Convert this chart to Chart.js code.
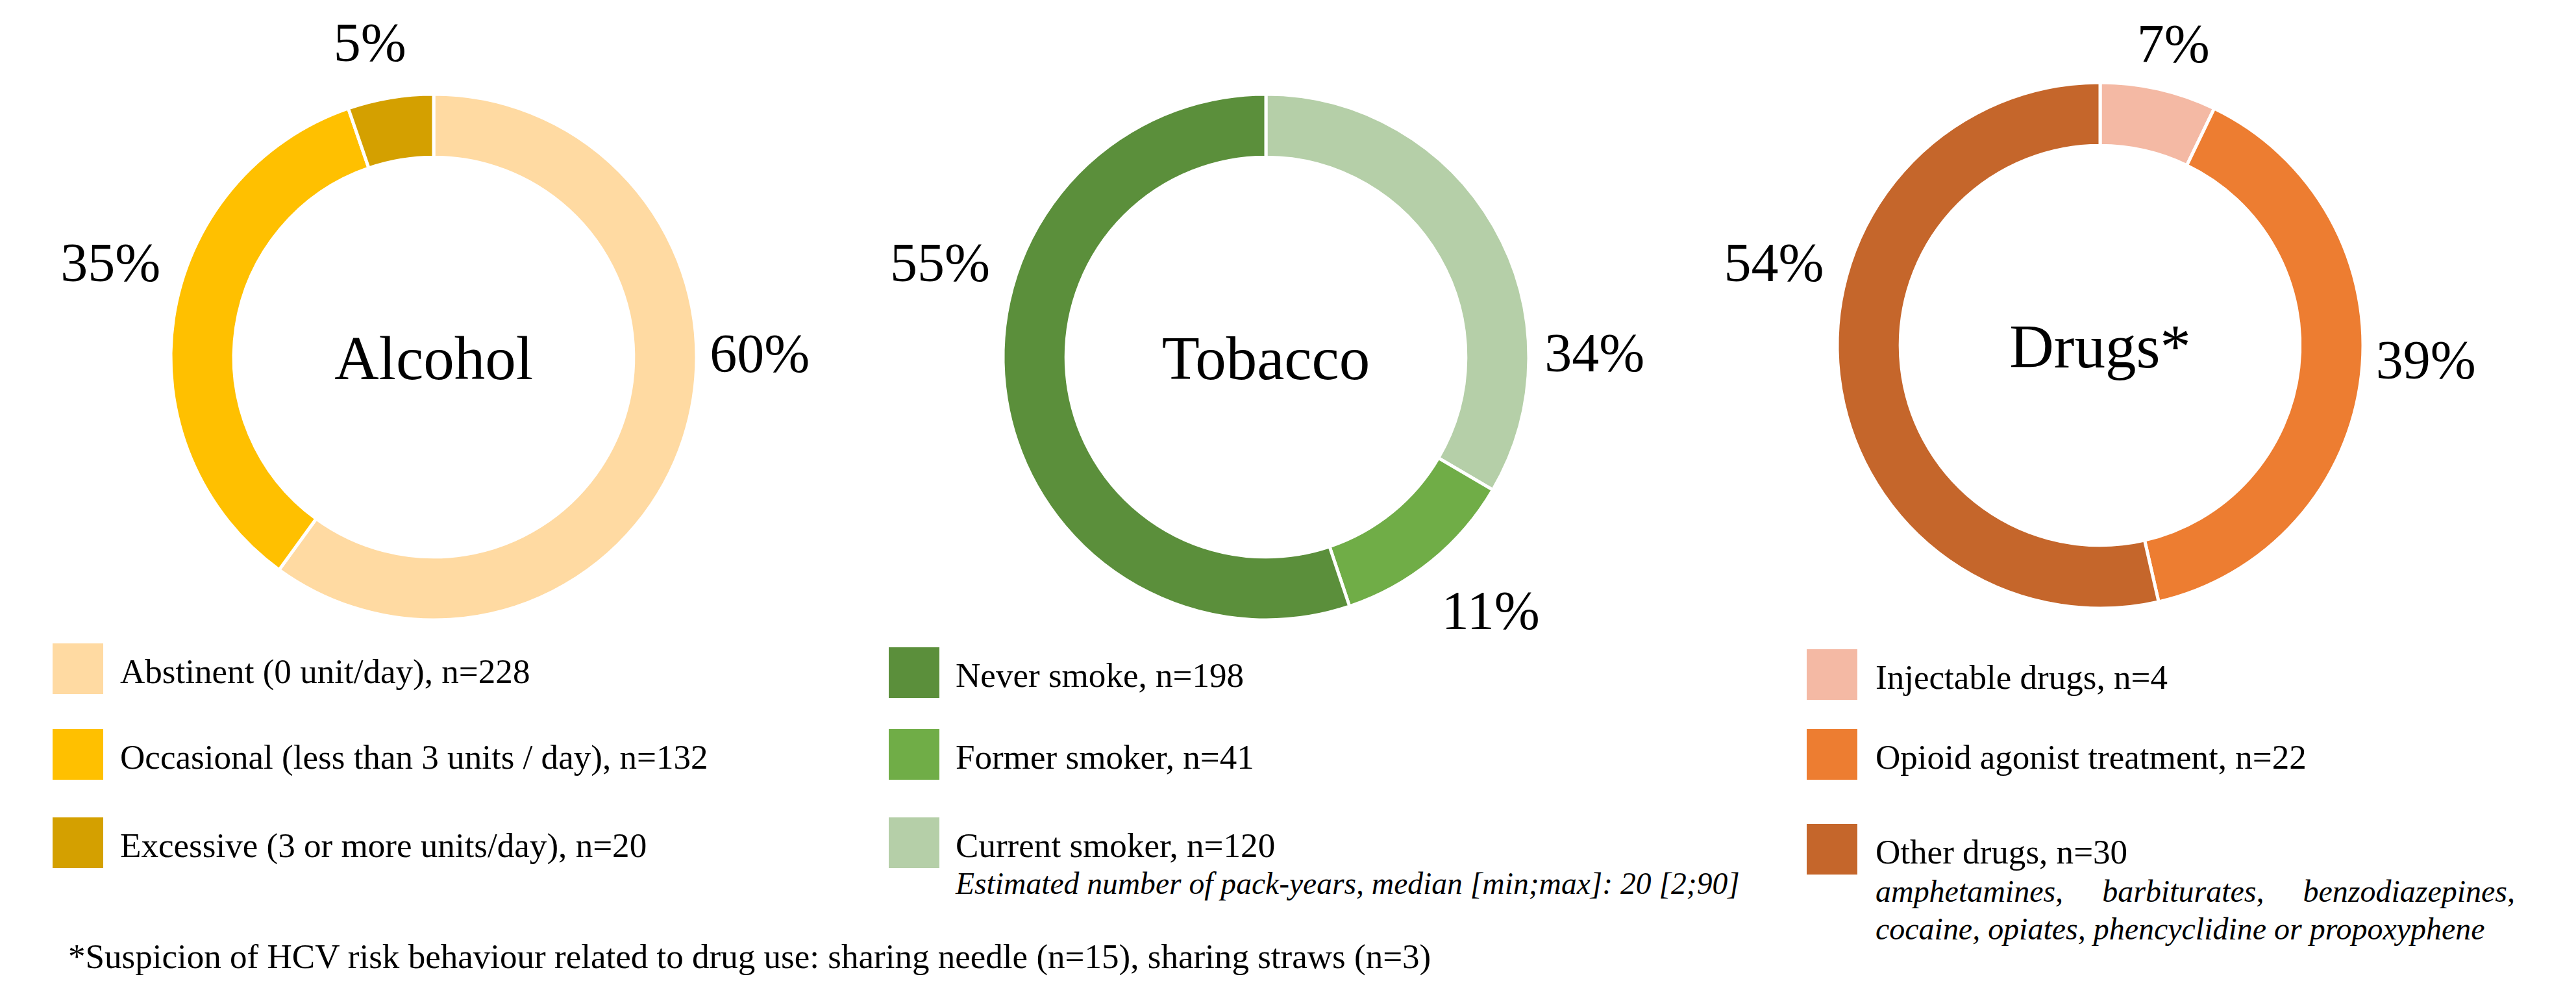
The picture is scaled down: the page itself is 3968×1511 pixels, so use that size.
<!DOCTYPE html>
<html>
<head>
<meta charset="utf-8">
<script src="https://cdn.jsdelivr.net/npm/chart.js@4.4.0/dist/chart.umd.min.js"></script>
<style>
    body { margin: 0; background: #fff; width: 3968px; height: 1511px; position: relative; overflow: hidden;
           font-family: "Liberation Serif", "Times New Roman", serif; color: #000; }
    canvas { position: absolute; }
    .sq { position: absolute; width: 78px; height: 78px; }
    .lt { position: absolute; font-size: 54px; line-height: 54px; white-space: nowrap; }
    .note { position: absolute; font-style: italic; font-size: 48px; line-height: 58px; }
    .foot { position: absolute; font-size: 55px; line-height: 55px; white-space: nowrap; }
</style>
</head>
<body>
<canvas id="alcohol" width="1260" height="1100"></canvas>
<canvas id="tobacco" width="1260" height="1100"></canvas>
<canvas id="drugs" width="1260" height="1100"></canvas>

<script>
// Alcohol
const alcoholLabels = ['Abstinent (0 unit/day)', 'Occasional (less than 3 units / day)', 'Excessive (3 or more units/day)'];
const alcoholN = [228, 132, 20];
const alcoholPct = [60, 35, 5];
const alcoholColors = ['#FFDAA2', '#FFC000', '#D4A000'];

// Tobacco
const tobaccoLabels = ['Never smoke', 'Former smoker', 'Current smoker'];
const tobaccoN = [198, 41, 120];
const tobaccoPct = [55, 11, 34];
const tobaccoColors = ['#5B8F3B', '#70AD47', '#B5CFA8'];

// Drugs
const drugsLabels = ['Injectable drugs', 'Opioid agonist treatment', 'Other drugs'];
const drugsN = [4, 22, 30];
const drugsPct = [7, 39, 54];
const drugsColors = ['#F4B9A4', '#ED7D31', '#C5662B'];

const tobaccoNote = 'Estimated number of pack-years, median [min;max]: 20 [2;90]';
const drugsNote = 'amphetamines, barbiturates, benzodiazepines, cocaine, opiates, phencyclidine or propoxyphene';
const drugsNoteLine2 = 'cocaine, opiates, phencyclidine or propoxyphene';
const footnote = '*Suspicion of HCV risk behaviour related to drug use: sharing needle (n=15), sharing straws (n=3)';

// layout of each panel (ring order = order of slices clockwise from 12 o'clock)
const panels = [
    { id: 'alcohol', title: 'Alcohol', labels: alcoholLabels, n: alcoholN, pct: alcoholPct, colors: alcoholColors,
      ring: [0, 1, 2], cx: 668, cy: 550, nudge: [-18.6, 7.7, -2], dist: [1.24, 1.28, 1.22],
      sqX: 81, txtX: 185, rows: [991, 1123, 1259], txtW: [631, 907, 813] },
    { id: 'tobacco', title: 'Tobacco', labels: tobaccoLabels, n: tobaccoN, pct: tobaccoPct, colors: tobaccoColors,
      ring: [2, 1, 0], cx: 1950, cy: 550, nudge: [25.4, -2.4, 29.2], dist: [1.29, 1.29, 1.25],
      sqX: 1369, txtX: 1472, rows: [997, 1123, 1259], txtW: [443, 458, 494] },
    { id: 'drugs', title: 'Drugs*', labels: drugsLabels, n: drugsN, pct: drugsPct, colors: drugsColors,
      ring: [0, 1, 2], cx: 3235, cy: 532, nudge: [0.8, -3.8, 20.6], dist: [1.18, 1.24, 1.28],
      sqX: 2783, txtX: 2889, rows: [1000, 1123, 1269], txtW: [448, 665, 390] }
];

// draws title in the hole and the % labels outside the ring
const ringText = {
    id: 'ringText',
    afterDatasetsDraw(chart, args, opts) {
        const ctx = chart.ctx;
        const arcs = chart.getDatasetMeta(0).data;
        ctx.save();
        ctx.fillStyle = '#000';
        ctx.textAlign = 'center';
        ctx.textBaseline = 'alphabetic';
        ctx.font = '95px "Liberation Serif"';
        ctx.fillText(opts.title, arcs[0].x, arcs[0].y + 34);
        ctx.font = '84px "Liberation Serif"';
        arcs.forEach((arc, i) => {
            const a = (arc.startAngle + arc.endAngle) / 2 + opts.nudge[i] * Math.PI / 180;
            const r = arc.outerRadius * opts.dist[i];
            ctx.fillText(opts.text[i], arc.x + Math.cos(a) * r, arc.y + Math.sin(a) * r + 28);
        });
        ctx.restore();
    }
};

// font size that makes text span a given width
function fitSize(text, base, italic, width) {
    const s = document.createElement('span');
    s.style.cssText = 'position:absolute;visibility:hidden;white-space:nowrap;font-size:' + base + 'px;' +
        (italic ? 'font-style:italic;' : '');
    s.textContent = text;
    document.body.appendChild(s);
    const w = s.getBoundingClientRect().width;
    s.remove();
    return base * width / w;
}

// one common size for all legend entries
let ratios = [];
panels.forEach(p => p.labels.forEach((lab, i) => {
    ratios.push(fitSize(lab + ', n=' + p.n[i], 54, false, p.txtW[i]));
}));
const legendSize = ratios.reduce((a, b) => a + b, 0) / ratios.length;

panels.forEach(p => {
    const canvas = document.getElementById(p.id);
    canvas.style.left = (p.cx - canvas.width / 2) + 'px';
    canvas.style.top = (p.cy - canvas.height / 2) + 'px';

    new Chart(canvas.getContext('2d'), {
        type: 'doughnut',
        data: {
            labels: p.ring.map(i => p.labels[i]),
            datasets: [{
                data: p.ring.map(i => p.n[i]),
                backgroundColor: p.ring.map(i => p.colors[i]),
                borderColor: '#fff',
                borderWidth: 5
            }]
        },
        options: {
            responsive: false,
            animation: false,
            radius: 405,
            cutout: '76%',
            events: [],
            plugins: {
                legend: { display: false },
                tooltip: { enabled: false },
                ringText: {
                    title: p.title,
                    text: p.ring.map(i => p.pct[i] + '%'),
                    nudge: p.ring.map(i => p.nudge[i]),
                    dist: p.ring.map(i => p.dist[i])
                }
            }
        },
        plugins: [ringText]
    });

    // legend
    p.labels.forEach((lab, i) => {
        const sq = document.createElement('div');
        sq.className = 'sq';
        sq.style.left = p.sqX + 'px';
        sq.style.top = p.rows[i] + 'px';
        sq.style.background = p.colors[i];
        document.body.appendChild(sq);

        const t = document.createElement('div');
        t.className = 'lt';
        t.style.fontSize = legendSize + 'px';
        t.style.left = p.txtX + 'px';
        t.style.top = (p.rows[i] + 16) + 'px';
        t.textContent = lab + ', n=' + p.n[i];
        document.body.appendChild(t);
    });
});

// notes under the legends
function addNote(text, x, y, w, cls, size) {
    const d = document.createElement('div');
    d.className = cls;
    d.style.left = x + 'px';
    d.style.top = y + 'px';
    d.style.fontSize = size + 'px';
    if (w) { d.style.width = w + 'px'; d.style.textAlign = 'justify'; }
    else d.style.whiteSpace = 'nowrap';
    d.textContent = text;
    document.body.appendChild(d);
}
addNote(tobaccoNote, 1472, 1332, 0, 'note', fitSize(tobaccoNote, 48, true, 1208));
addNote(drugsNote, 2889, 1344, 985, 'note', fitSize(drugsNoteLine2, 48, true, 939));
addNote(footnote, 105, 1446, 0, 'foot', fitSize(footnote, 55, false, 2100));
</script>
</body>
</html>
